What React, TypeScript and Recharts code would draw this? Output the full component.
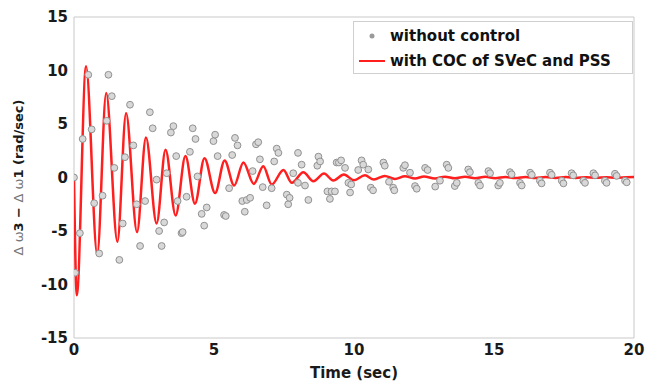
import React from "react"
import {
  ComposedChart,
  Line,
  Scatter,
  XAxis,
  YAxis,
  ReferenceArea,
} from "recharts"

// red curve (with COC of SVeC and PSS), read at its peaks and troughs
const cocTime = [
  0, 0.1, 0.43, 0.83, 1.15, 1.55, 1.86, 2.25, 2.57, 2.95, 3.27, 3.63, 3.98, 4.32, 4.66, 5.04,
  5.38, 5.72, 6.05, 6.42, 6.76, 7.06, 7.48, 7.78, 8.19, 8.55, 8.93, 9.26, 9.64, 10.0, 10.39,
  10.71, 11.1, 11.46, 11.82, 12.18, 12.5, 12.89, 13.25, 13.6, 13.97, 14.32, 14.69, 15.04, 15.41,
  15.76, 16.13, 16.48, 16.85, 17.2, 17.57, 17.92, 18.29, 18.64, 19.01, 19.36, 19.73, 20.0,
]
const cocValue = [
  0, -11.0, 10.4, -7.2, 7.9, -6.0, 6.0, -5.1, 3.75, -4.3, 2.6, -3.55, 2.0, -2.45, 1.8, -1.45,
  1.6, -0.75, 1.4, -0.6, 1.05, -0.65, 0.7, -0.5, 0.5, -0.35, 0.37, -0.28, 0.28, -0.25, 0.2,
  -0.19, 0.15, -0.13, 0.12, -0.1, 0.1, -0.09, 0.08, -0.08, 0.07, -0.07, 0.06, -0.06, 0.05,
  -0.05, 0.05, -0.05, 0.04, -0.04, 0.04, -0.04, 0.03, -0.03, 0.03, -0.03, 0.03, 0.05,
]

// gray circles (without control)
const rawTime = [
  0.0, 0.04, 0.21, 0.31, 0.51, 0.63, 0.72, 0.9, 1.02, 1.17, 1.23, 1.35, 1.44, 1.62, 1.74, 1.82,
  2.0, 2.12, 2.24, 2.36, 2.54, 2.71, 2.81, 2.95, 3.04, 3.13, 3.22, 3.31, 3.46, 3.55, 3.65, 3.7,
  3.84, 3.88, 4.02, 4.14, 4.24, 4.34, 4.41, 4.56, 4.65, 4.74, 4.98, 5.04, 5.13, 5.36, 5.42, 5.54,
  5.65, 5.75, 5.84, 6.01, 6.1, 6.17, 6.29, 6.38, 6.5, 6.58, 6.64, 6.74, 6.88, 7.06, 7.15, 7.24,
  7.3, 7.6, 7.65, 7.7, 7.83, 8.0, 8.0, 8.13, 8.25, 8.37, 8.69, 8.73, 8.79, 9.05, 9.14, 9.2,
  9.32, 9.38, 9.46, 9.54, 9.68, 9.8, 9.86, 9.9, 10.15, 10.27, 10.33, 10.51, 10.6, 10.68, 11.05,
  11.1, 11.25, 11.4, 11.44, 11.76, 11.82, 12.0, 12.18, 12.24, 12.54, 12.63, 12.9, 13.07, 13.31,
  13.37, 13.6, 13.67, 14.08, 14.14, 14.44, 14.5, 14.8, 14.86, 15.15, 15.21, 15.57, 15.63, 15.93,
  15.99, 16.29, 16.35, 16.64, 16.7, 17.0, 17.06, 17.42, 17.48, 17.77, 17.83, 18.19, 18.25, 18.55,
  18.61, 18.96, 19.02, 19.32, 19.38, 19.68, 19.74,
]
const rawValue = [
  0.0, -8.9, -5.2, 3.6, 9.6, 4.5, -2.4, -7.1, -1.7, 5.3, 9.6, 7.6, 0.9, -7.7, -4.3, 1.9,
  6.8, 3.0, -2.5, -6.4, -2.2, 6.1, 4.6, -0.2, -5.0, -6.4, -4.2, 0.4, 4.2, 4.8, 2.0, -2.2,
  -5.2, -5.1, -1.8, 2.4, 4.6, 3.6, 0.1, -3.4, -4.5, -2.8, 3.4, 4.0, 2.0, -3.5, -3.6, -1.0,
  2.1, 3.7, 3.0, -2.2, -3.2, -2.1, -1.9, 0.6, 3.1, 3.3, 1.7, -0.9, -2.6, -1.0, 1.5, 2.7,
  2.3, -1.6, -2.5, -1.9, 0.4, 2.3, -0.5, 1.2, -0.75, -2.1, 1.1, 1.95, 1.5, -1.3, -2.0, -1.3,
  -1.3, 1.4, 1.4, 1.6, 0.9, -0.5, -1.4, -0.65, 0.7, 1.6, 1.2, 0.75, -0.95, -1.2, 1.4,
  1.1, -0.4, -0.95, -1.2, 0.9, 1.15, 0.45, -0.8, -1.05, 0.9, 0.7, -0.85, -0.3, 1.2,
  0.9, -0.8, -0.5, 0.75, 0.5, -0.5, -0.75, 0.6, 0.4, -0.75, -0.5, 0.5, 0.3, -0.5,
  -0.75, 0.45, 0.25, -0.3, -0.55, 0.45, 0.25, -0.3, -0.55, 0.4, 0.2, -0.3, -0.5, 0.4,
  0.2, -0.3, -0.5, 0.35, 0.15, -0.3, -0.45,
]

const xTicks = [0, 5, 10, 15, 20]
const yTicks = [-15, -10, -5, 0, 5, 10, 15]

const cocData = cocTime.map((t, i) => ({ t, v: cocValue[i] }))
const rawData = rawTime.map((t, i) => ({ t, v: rawValue[i] }))

const font = "'DejaVu Sans', Verdana, sans-serif"
const tickStyle = { fontSize: 15, fontWeight: 700, fill: "#1a1a1a", fontFamily: font }

function Ring({ cx, cy }: { cx?: number; cy?: number }) {
  if (cx == null || cy == null) return null
  return <circle cx={cx} cy={cy} r={3.4} fill="#d8d8d8" stroke="#919191" strokeWidth={1} />
}

function YLabel({ viewBox }: any) {
  const cx = 19
  const cy = viewBox.y + viewBox.height / 2
  return (
    <text
      x={cx}
      y={cy}
      transform={`rotate(-90 ${cx} ${cy})`}
      textAnchor="middle"
      dominantBaseline="middle"
      fontFamily={font}
      fontSize={13}
      fill="#1a1a1a"
    >
      <tspan fill="#777" fontWeight={400}>Δ ω</tspan>
      <tspan fontWeight={700}>3</tspan>
      <tspan fontWeight={700}> − </tspan>
      <tspan fill="#777" fontWeight={400}>Δ ω</tspan>
      <tspan fontWeight={700}>1 (rad/sec)</tspan>
    </text>
  )
}

function XLabel({ viewBox }: any) {
  const cx = viewBox.x + viewBox.width / 2
  return (
    <text
      x={cx}
      y={378}
      textAnchor="middle"
      fontFamily={font}
      fontSize={15}
      fontWeight={700}
      fill="#1a1a1a"
    >
      Time (sec)
    </text>
  )
}

function LegendBox() {
  const row = { display: "flex", alignItems: "center", height: 25 }
  return (
    <div
      style={{
        position: "absolute",
        left: 353,
        top: 21,
        border: "1px solid #cfcfcf",
        background: "#fff",
        width: 280,
        height: 53,
        boxSizing: "border-box",
        padding: "1px 0 0 4px",
        fontFamily: font,
        fontSize: 15,
        fontWeight: 700,
        color: "#111",
        whiteSpace: "nowrap",
      }}
    >
      <div style={row}>
        <svg width={32} height={10}>
          <circle cx={14} cy={5} r={2.5} fill="#9a9a9a" />
        </svg>
        <span>without control</span>
      </div>
      <div style={row}>
        <svg width={32} height={10}>
          <line x1={1} y1={5} x2={27} y2={5} stroke="#ff1f1f" strokeWidth={2} />
        </svg>
        <span>with COC of SVeC and PSS</span>
      </div>
    </div>
  )
}

export default function App() {
  return (
    <div style={{ position: "relative", width: 646, height: 382 }}>
      <style>{`body{margin:0;background:#fff}`}</style>
      <ComposedChart width={646} height={382} margin={{ top: 17, right: 12, bottom: 0, left: 0 }}>
        <XAxis
          dataKey="t"
          type="number"
          domain={[0, 20]}
          ticks={xTicks}
          allowDataOverflow
          axisLine={false}
          tickLine={false}
          tickSize={4}
          tickMargin={2}
          height={44}
          tick={tickStyle}
          label={{ content: XLabel }}
        />
        <YAxis
          dataKey="v"
          type="number"
          domain={[-15, 15]}
          ticks={yTicks}
          allowDataOverflow
          axisLine={false}
          tickLine={false}
          tickSize={4}
          tickMargin={2}
          width={74}
          tick={tickStyle}
          label={{ content: YLabel }}
        />
        <ReferenceArea x1={0} x2={20} y1={-15} y2={15} fill="none" stroke="#c9c9c9" strokeWidth={1} />
        <Scatter
          name="without control"
          data={rawData}
          dataKey="v"
          shape={Ring}
          isAnimationActive={false}
        />
        <Line
          name="with COC of SVeC and PSS"
          data={cocData}
          dataKey="v"
          type="monotone"
          stroke="#ff1f1f"
          strokeWidth={2.5}
          dot={false}
          activeDot={false}
          isAnimationActive={false}
        />
      </ComposedChart>
      <LegendBox />
    </div>
  )
}
